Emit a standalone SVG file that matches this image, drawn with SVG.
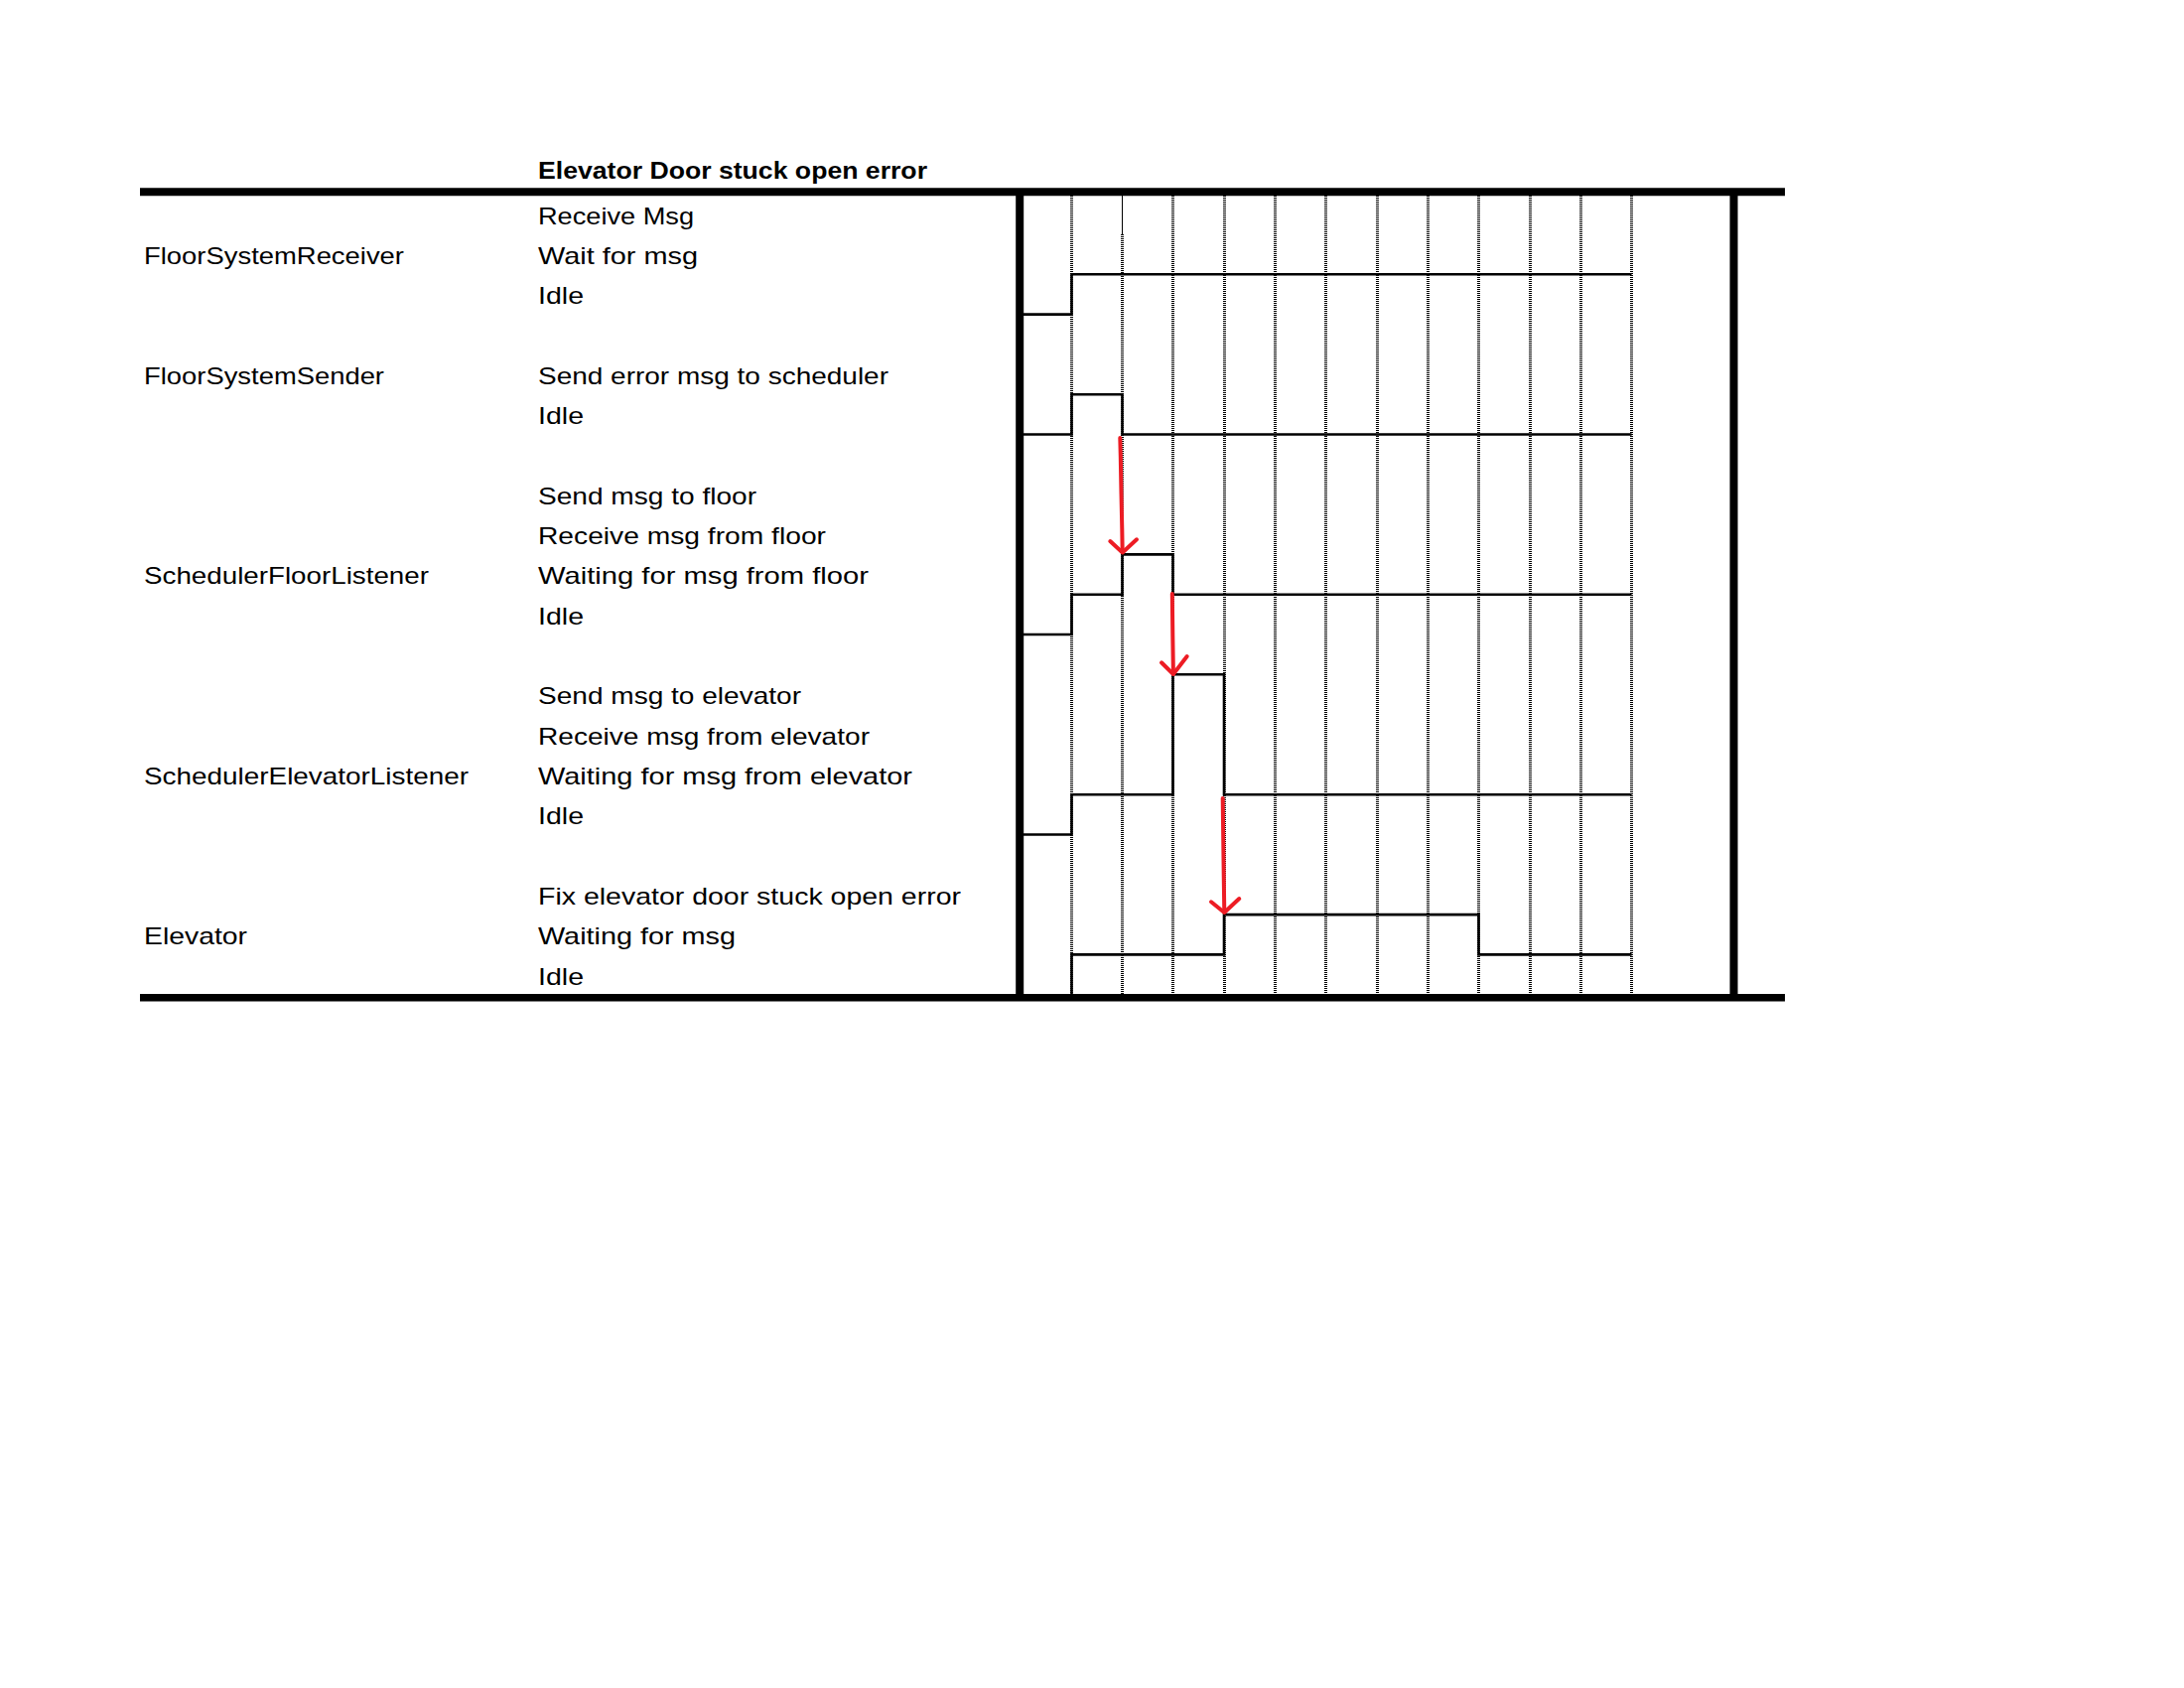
<svg xmlns="http://www.w3.org/2000/svg" width="2200" height="1700" viewBox="0 0 2200 1700">
  <style>
    text { font-family: "Liberation Sans", Arial, sans-serif; font-size: 24px; fill: #000; }
    .title { font-weight: bold; }
    .frame { stroke: #000; fill: none; }
    .grid { stroke: #000; stroke-width: 3; stroke-dasharray: 1 1; fill: none; shape-rendering: crispEdges; }
    .sig { stroke: #000; stroke-width: 2.6; fill: none; stroke-linejoin: miter; }
    .arrow { stroke: #ED1C24; stroke-width: 4; fill: none; stroke-linecap: round; stroke-linejoin: round; }
  </style>
  <rect x="0" y="0" width="2200" height="1700" fill="#fff"/>

  <text class="title" x="542" y="180" textLength="392" lengthAdjust="spacingAndGlyphs">Elevator Door stuck open error</text>

  <g id="grid">
    <line class="grid" x1="1079.5" y1="197" x2="1079.5" y2="1001"/>
    <line x1="1130.5" y1="197" x2="1130.5" y2="236" stroke="#000" stroke-width="1"/>
    <line class="grid" x1="1130.5" y1="236" x2="1130.5" y2="1001"/>
    <line class="grid" x1="1181.5" y1="197" x2="1181.5" y2="1001"/>
    <line class="grid" x1="1233.5" y1="197" x2="1233.5" y2="1001"/>
    <line class="grid" x1="1284.5" y1="197" x2="1284.5" y2="1001"/>
    <line class="grid" x1="1335.5" y1="197" x2="1335.5" y2="1001"/>
    <line class="grid" x1="1387.5" y1="197" x2="1387.5" y2="1001"/>
    <line class="grid" x1="1438.5" y1="197" x2="1438.5" y2="1001"/>
    <line class="grid" x1="1489.5" y1="197" x2="1489.5" y2="1001"/>
    <line class="grid" x1="1541.5" y1="197" x2="1541.5" y2="1001"/>
    <line class="grid" x1="1592.5" y1="197" x2="1592.5" y2="1001"/>
    <line class="grid" x1="1643.5" y1="197" x2="1643.5" y2="1001"/>
  </g>

  <g id="frame">
    <line class="frame" x1="141" y1="193.3" x2="1798" y2="193.3" stroke-width="8"/>
    <line class="frame" x1="141" y1="1004.7" x2="1798" y2="1004.7" stroke-width="7.5"/>
    <line class="frame" x1="1027.2" y1="193" x2="1027.2" y2="1008" stroke-width="8"/>
    <line class="frame" x1="1746.5" y1="193" x2="1746.5" y2="1008" stroke-width="8"/>
  </g>

  <g id="FloorSystemReceiver">
    <text x="145" y="266" textLength="262" lengthAdjust="spacingAndGlyphs">FloorSystemReceiver</text>
    <text x="542" y="226" textLength="157" lengthAdjust="spacingAndGlyphs">Receive Msg</text>
    <text x="542" y="266" textLength="161" lengthAdjust="spacingAndGlyphs">Wait for msg</text>
    <text x="542" y="306" textLength="46" lengthAdjust="spacingAndGlyphs">Idle</text>
    <path class="sig" d="M1031 316.6 H1079.5 V276.3 H1643.5"/>
  </g>

  <g id="FloorSystemSender">
    <text x="145" y="387" textLength="242" lengthAdjust="spacingAndGlyphs">FloorSystemSender</text>
    <text x="542" y="387" textLength="353" lengthAdjust="spacingAndGlyphs">Send error msg to scheduler</text>
    <text x="542" y="427" textLength="46" lengthAdjust="spacingAndGlyphs">Idle</text>
    <path class="sig" d="M1031 437.5 H1079.5 V397.2 H1130.5 V437.5 H1643.5"/>
  </g>

  <g id="SchedulerFloorListener">
    <text x="145" y="588" textLength="287" lengthAdjust="spacingAndGlyphs">SchedulerFloorListener</text>
    <text x="542" y="507.6" textLength="220" lengthAdjust="spacingAndGlyphs">Send msg to floor</text>
    <text x="542" y="548" textLength="290" lengthAdjust="spacingAndGlyphs">Receive msg from floor</text>
    <text x="542" y="588" textLength="333" lengthAdjust="spacingAndGlyphs">Waiting for msg from floor</text>
    <text x="542" y="628.5" textLength="46" lengthAdjust="spacingAndGlyphs">Idle</text>
    <path class="sig" d="M1031 639 H1079.5 V598.7 H1130.5 V558.4 H1181.5 V598.7 H1643.5"/>
  </g>

  <g id="SchedulerElevatorListener">
    <text x="145" y="790" textLength="327" lengthAdjust="spacingAndGlyphs">SchedulerElevatorListener</text>
    <text x="542" y="709" textLength="265" lengthAdjust="spacingAndGlyphs">Send msg to elevator</text>
    <text x="542" y="749.5" textLength="334" lengthAdjust="spacingAndGlyphs">Receive msg from elevator</text>
    <text x="542" y="790" textLength="377" lengthAdjust="spacingAndGlyphs">Waiting for msg from elevator</text>
    <text x="542" y="830" textLength="46" lengthAdjust="spacingAndGlyphs">Idle</text>
    <path class="sig" d="M1031 840.5 H1079.5 V800.2 H1181.5 V679.3 H1233 V800.2 H1643.5"/>
  </g>

  <g id="Elevator">
    <text x="145" y="951" textLength="104" lengthAdjust="spacingAndGlyphs">Elevator</text>
    <text x="542" y="911" textLength="426" lengthAdjust="spacingAndGlyphs">Fix elevator door stuck open error</text>
    <text x="542" y="951" textLength="199" lengthAdjust="spacingAndGlyphs">Waiting for msg</text>
    <text x="542" y="991.5" textLength="46" lengthAdjust="spacingAndGlyphs">Idle</text>
    <path class="sig" d="M1079.5 1001 V961.4 H1233 V921.1 H1489.5 V961.4 H1643.5"/>
  </g>

  <g id="connectors">
    <path class="arrow" d="M1128.3 441 L1128.8 460 L1129.5 497 L1130.3 533 L1130.7 556"/>
    <path class="arrow" d="M1118.3 545 L1130.7 556.5 L1145 543.3"/>
    <path class="arrow" d="M1180.8 598 L1181.3 640 L1181.9 678.5"/>
    <path class="arrow" d="M1170 667.3 L1181.9 679 L1195.7 661"/>
    <path class="arrow" d="M1231.7 804 L1232.7 880 L1233.3 918.5"/>
    <path class="arrow" d="M1220 908.3 L1233.3 919 L1248.3 905"/>
  </g>
</svg>
